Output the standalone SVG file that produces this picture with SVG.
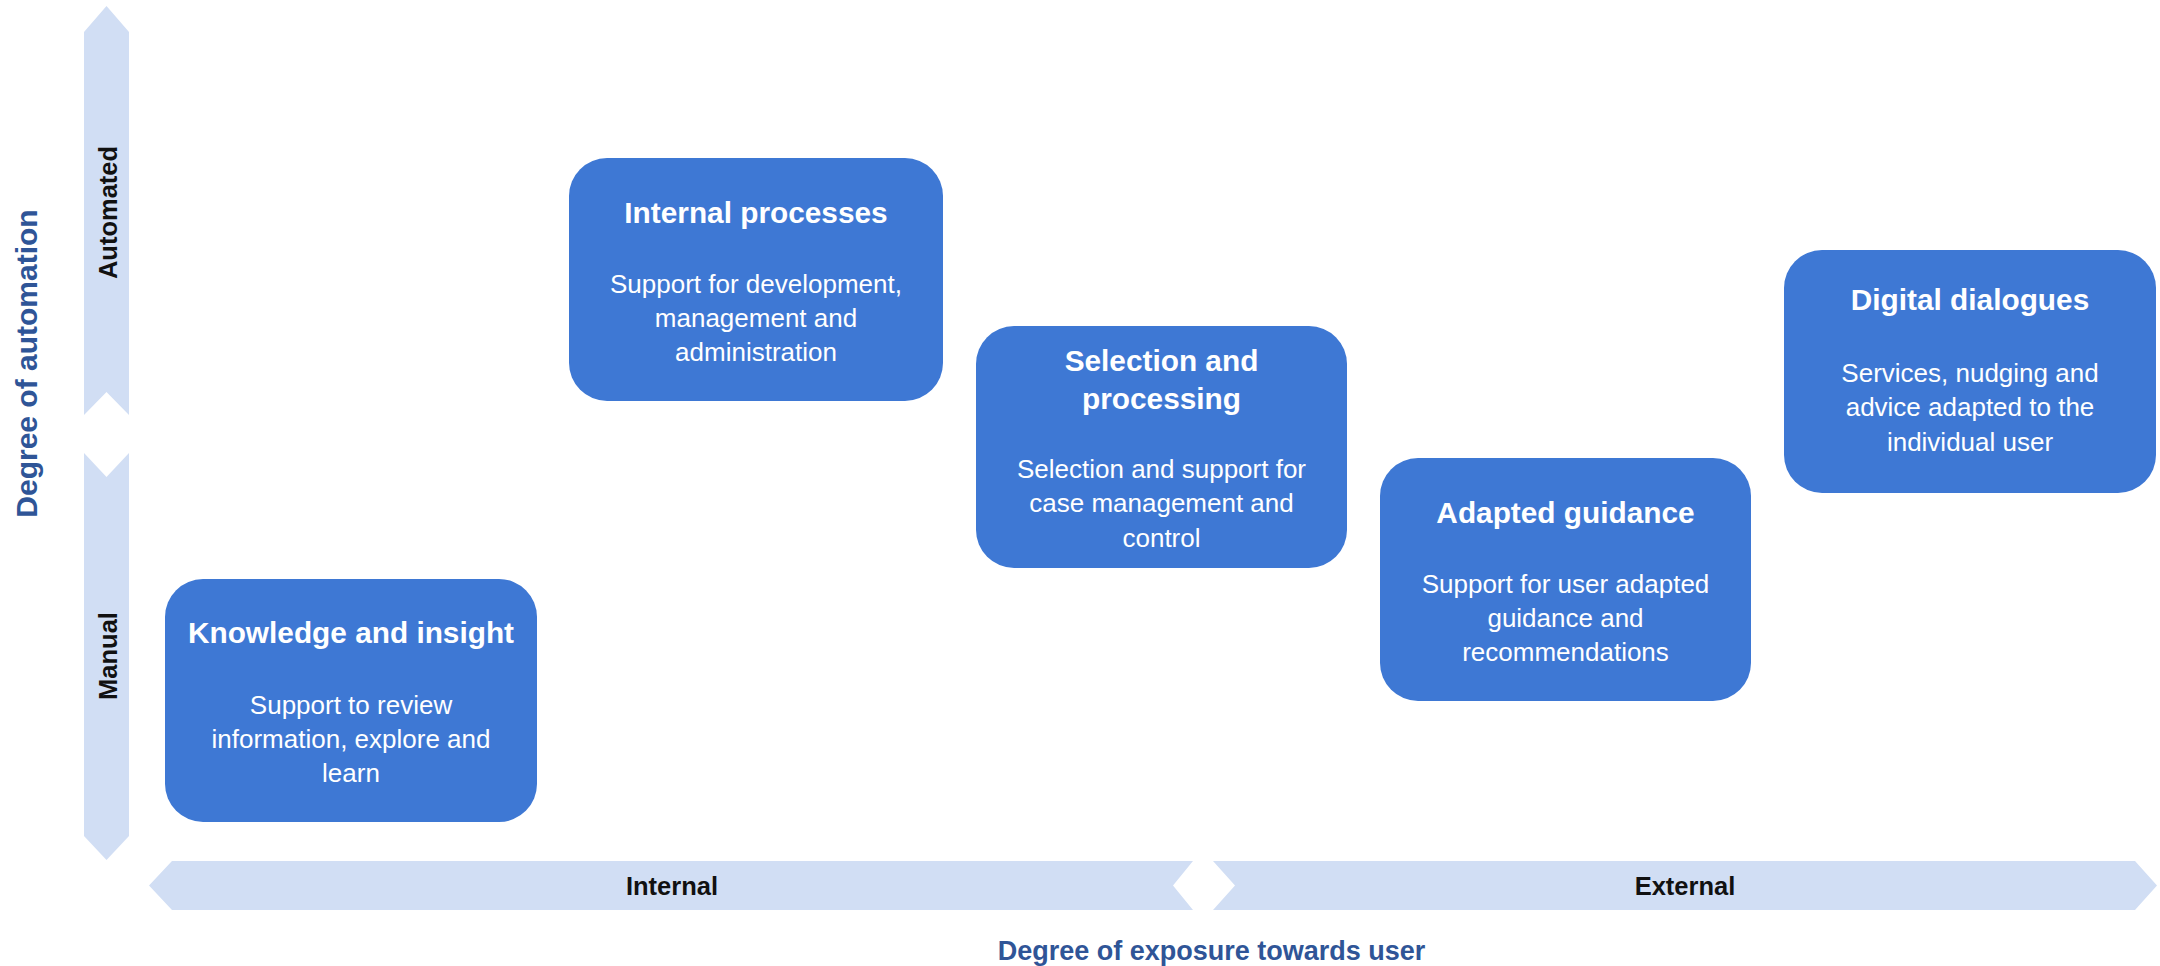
<svg xmlns="http://www.w3.org/2000/svg" width="2160" height="966" viewBox="0 0 2160 966">
<style>
.bg{fill:#ffffff}
.axis{fill:#D1DEF4}
.box{fill:#3E78D4}
.t{font-family:"Liberation Sans",Arial,sans-serif;fill:#ffffff;text-anchor:middle}
.ttl{font-size:29.8px;font-weight:bold}
.bd{font-size:26px}
.al{font-family:"Liberation Sans",Arial,sans-serif;font-size:25.5px;font-weight:bold;fill:#111111;text-anchor:middle}
.ax{font-family:"Liberation Sans",Arial,sans-serif;font-weight:bold;fill:#2F5597;text-anchor:middle}
</style>
<rect class="bg" x="0" y="0" width="2160" height="966"/>
<g id="axes">
  <polygon class="axis" points="106.5,6 129,32 129,415 106.5,392 84,415 84,32"/>
  <polygon class="axis" points="84,453 106.5,477 129,453 129,836 106.5,860 84,836"/>
  <polygon class="axis" points="149,885.5 172,861 1193,861 1173,885.5 1193,910 172,910"/>
  <polygon class="axis" points="1213,861 2135,861 2157,885.5 2135,910 1213,910 1235,885.5"/>
  <text class="al" transform="translate(116.5,212.5) rotate(-90)">Automated</text>
  <text class="al" transform="translate(116.5,656) rotate(-90)">Manual</text>
  <text class="al" x="672" y="894.5">Internal</text>
  <text class="al" x="1685" y="894.5">External</text>
  <text class="ax" style="font-size:30px" transform="translate(37,363.5) rotate(-90)">Degree of automation</text>
  <text class="ax" style="font-size:27px" x="1211.5" y="960">Degree of exposure towards user</text>
</g>
<g id="knowledge">
  <rect class="box" x="165" y="579" width="372" height="243" rx="38" ry="38"/>
  <text class="t ttl" x="351" y="643">Knowledge and insight</text>
  <text class="t bd" x="351" y="714">Support to review</text>
  <text class="t bd" x="351" y="748">information, explore and</text>
  <text class="t bd" x="351" y="782">learn</text>
</g>
<g id="internal">
  <rect class="box" x="569" y="158" width="374" height="243" rx="38" ry="38"/>
  <text class="t ttl" x="756" y="223">Internal processes</text>
  <text class="t bd" x="756" y="293">Support for development,</text>
  <text class="t bd" x="756" y="327">management and</text>
  <text class="t bd" x="756" y="361">administration</text>
</g>
<g id="selection">
  <rect class="box" x="976" y="326" width="371" height="242" rx="38" ry="38"/>
  <text class="t ttl" x="1161.5" y="371">Selection and</text>
  <text class="t ttl" x="1161.5" y="409">processing</text>
  <text class="t bd" x="1161.5" y="478">Selection and support for</text>
  <text class="t bd" x="1161.5" y="512">case management and</text>
  <text class="t bd" x="1161.5" y="547">control</text>
</g>
<g id="adapted">
  <rect class="box" x="1380" y="458" width="371" height="243" rx="38" ry="38"/>
  <text class="t ttl" x="1565.5" y="523">Adapted guidance</text>
  <text class="t bd" x="1565.5" y="593">Support for user adapted</text>
  <text class="t bd" x="1565.5" y="627">guidance and</text>
  <text class="t bd" x="1565.5" y="661">recommendations</text>
</g>
<g id="digital">
  <rect class="box" x="1784" y="250" width="372" height="243" rx="38" ry="38"/>
  <text class="t ttl" x="1970" y="310">Digital dialogues</text>
  <text class="t bd" x="1970" y="382">Services, nudging and</text>
  <text class="t bd" x="1970" y="416">advice adapted to the</text>
  <text class="t bd" x="1970" y="451">individual user</text>
</g>
<g id="connectors"></g>
</svg>
